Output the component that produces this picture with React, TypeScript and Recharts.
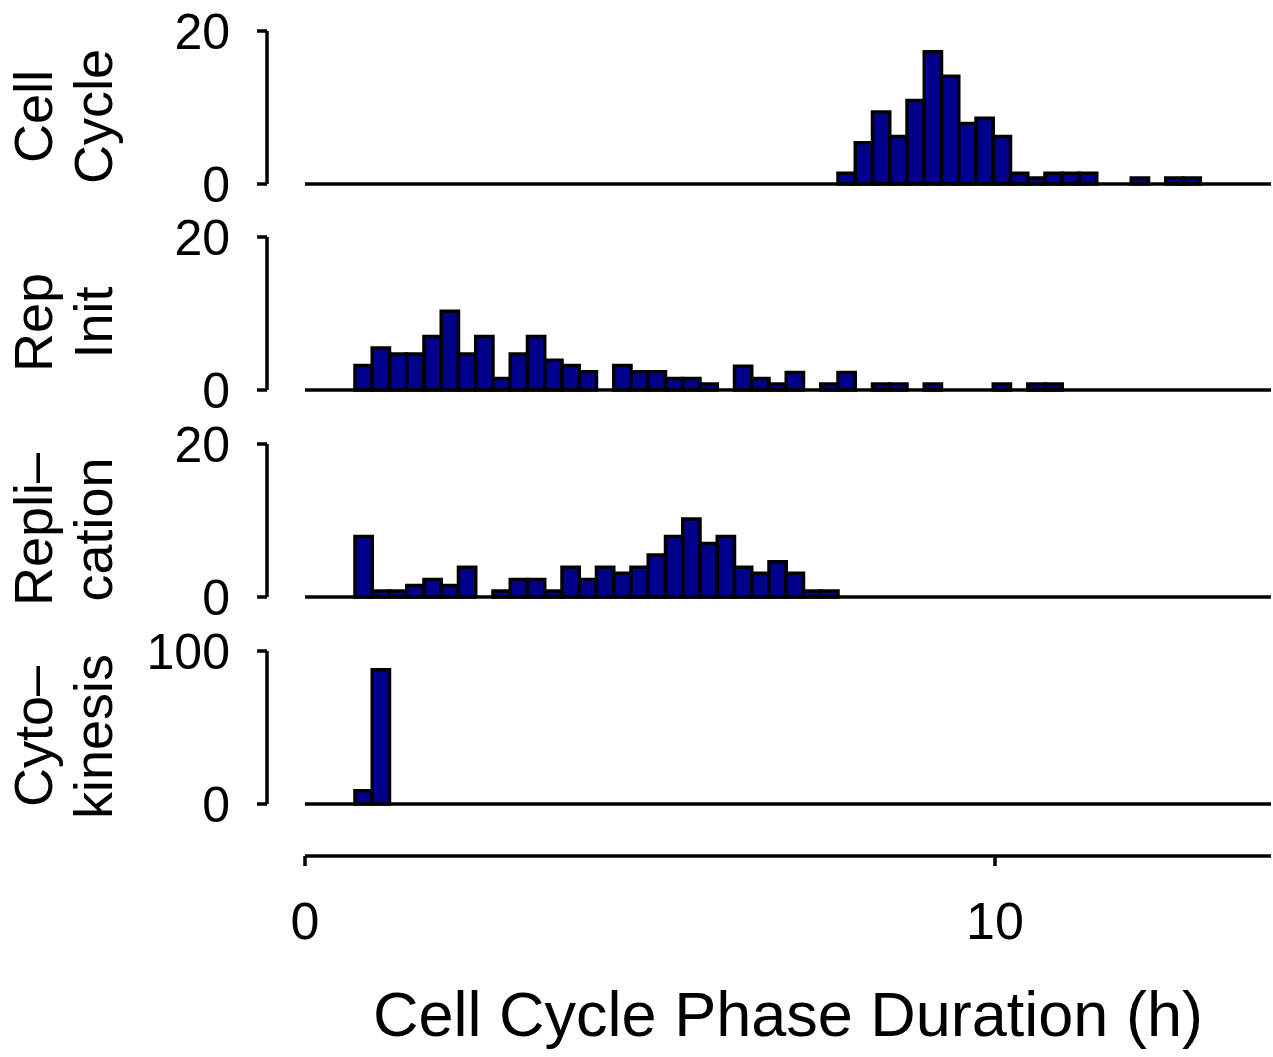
import React from "react";
import { BarChart, Bar, XAxis, YAxis, ReferenceLine } from "recharts";

const FONT = '"Liberation Sans", Arial, Helvetica, sans-serif';

// histogram bins (h)
const BIN_WIDTH = 0.25;
const FIRST_BIN_CENTER = 0.85;
const BIN_COUNT = 53;
const binCenters = Array.from({ length: BIN_COUNT }, (_, i) => +(FIRST_BIN_CENTER + i * BIN_WIDTH).toFixed(3));

// percent of cells per bin, first value sits in bin "...FirstBin"
const cellCycleFirstBin = 28;
const cellCycle = [1.4, 5.4, 9.4, 6.2, 10.9, 17.3, 14.1, 7.9, 8.6, 6.2, 1.4, 0.8, 1.4, 1.4, 1.4, 0, 0, 0.8, 0, 0.8, 0.8];

const repInitFirstBin = 0;
const repInit = [
  3.2, 5.5, 4.7, 4.7, 7.0, 10.3, 4.7, 7.0, 1.5, 4.7, 7.0, 3.9, 3.2, 2.4, 0, 3.2, 2.4, 2.4, 1.5, 1.5, 0.8, 0, 3.1, 1.5,
  0.8, 2.3, 0, 0.8, 2.3, 0, 0.8, 0.8, 0, 0.8, 0, 0, 0, 0.8, 0, 0.8, 0.8,
];

const replicationFirstBin = 0;
const replication = [
  7.9, 0.8, 0.8, 1.5, 2.3, 1.5, 3.9, 0, 0.8, 2.3, 2.3, 0.8, 3.9, 2.3, 3.9, 3.1, 3.9, 5.5, 7.9, 10.2, 7.0, 7.9, 3.9, 3.1,
  4.6, 3.1, 0.8, 0.8,
];

const cytokinesisFirstBin = 0;
const cytokinesis = [8.6, 87.7];

const xTicks = [0, 10];
const xTitle = "Cell Cycle Phase Duration (h)";

const panels = [
  { id: "cell", lines: ["Cell", "Cycle"], values: cellCycle, first: cellCycleFirstBin, yMax: 20 },
  { id: "init", lines: ["Rep", "Init"], values: repInit, first: repInitFirstBin, yMax: 20 },
  { id: "repl", lines: ["Repli\u2013", "cation"], values: replication, first: replicationFirstBin, yMax: 20 },
  { id: "cyto", lines: ["Cyto\u2013", "kinesis"], values: cytokinesis, first: cytokinesisFirstBin, yMax: 100 },
];

const PANEL_TOPS = [31, 237, 444, 651];
const PLOT_H = 153;
const LINE_W = 3.5;

const buildData = (values: number[], first: number) =>
  binCenters.map((x, i) => ({ x, y: values[i - first] ?? 0 }));

const PanelLabel = ({ viewBox, lines }: { viewBox: any; lines: string[] }) => {
  const cy = viewBox.y + viewBox.height / 2 + 9;
  return (
    <g>
      {lines.map((t, i) => (
        <text
          key={t}
          transform={`translate(${52 + 60 * i},${cy}) rotate(-90)`}
          textAnchor="middle"
          fontSize={54}
          fontFamily={FONT}
          fill="#000"
        >
          {t}
        </text>
      ))}
    </g>
  );
};

export default function App() {
  return (
    <div style={{ position: "absolute", left: 0, top: 0, width: 1273, height: 1057, background: "#fff" }}>
      {panels.map((p, i) => (
        <div key={p.id} style={{ position: "absolute", left: 0, top: PANEL_TOPS[i] - 50 }}>
          <BarChart
            width={1273}
            height={250}
            data={buildData(p.values, p.first)}
            margin={{ top: 50, right: 2, bottom: 250 - 50 - PLOT_H, left: 0 }}
            barCategoryGap={0}
            barGap={0}
          >
            <XAxis type="number" dataKey="x" domain={[-0.55, 14]} hide allowDataOverflow />
            <YAxis
              type="number"
              domain={[0, p.yMax]}
              ticks={[0, p.yMax]}
              interval={0}
              width={267}
              tickSize={10}
              tickMargin={27}
              axisLine={{ stroke: "#000", strokeWidth: LINE_W }}
              tickLine={{ stroke: "#000", strokeWidth: LINE_W }}
              tick={{ fill: "#000", fontSize: 50, fontFamily: FONT }}
              label={{ content: (props: any) => <PanelLabel viewBox={props.viewBox} lines={p.lines} /> }}
            />
            <ReferenceLine segment={[{ x: 0, y: 0 }, { x: 14, y: 0 }]} stroke="#000" strokeWidth={LINE_W} />
            <Bar dataKey="y" fill="#00008b" stroke="#000" strokeWidth={LINE_W} barSize={17.25} isAnimationActive={false} />
          </BarChart>
        </div>
      ))}

      {/* shared x axis */}
      <div style={{ position: "absolute", left: 0, top: 800 }}>
        <BarChart
          width={1273}
          height={257}
          data={binCenters.map((x) => ({ x, y: 0 }))}
          margin={{ top: 10, right: 2, bottom: 0, left: 305 }}
        >
          <XAxis
            type="number"
            dataKey="x"
            domain={[0, 14]}
            ticks={xTicks}
            interval={0}
            height={201}
            tickSize={10}
            tickMargin={36}
            axisLine={{ stroke: "#000", strokeWidth: LINE_W }}
            tickLine={{ stroke: "#000", strokeWidth: LINE_W }}
            tick={{ fill: "#000", fontSize: 52, fontFamily: FONT }}
            allowDataOverflow
            label={{
              content: (props: any) => (
                <text
                  x={props.viewBox.x + props.viewBox.width / 2}
                  y={236}
                  textAnchor="middle"
                  fontSize={63}
                  fontFamily={FONT}
                  fill="#000"
                >
                  {xTitle}
                </text>
              ),
            }}
          />
          <YAxis hide domain={[0, 1]} />
          <Bar dataKey="y" isAnimationActive={false} />
        </BarChart>
      </div>
    </div>
  );
}
